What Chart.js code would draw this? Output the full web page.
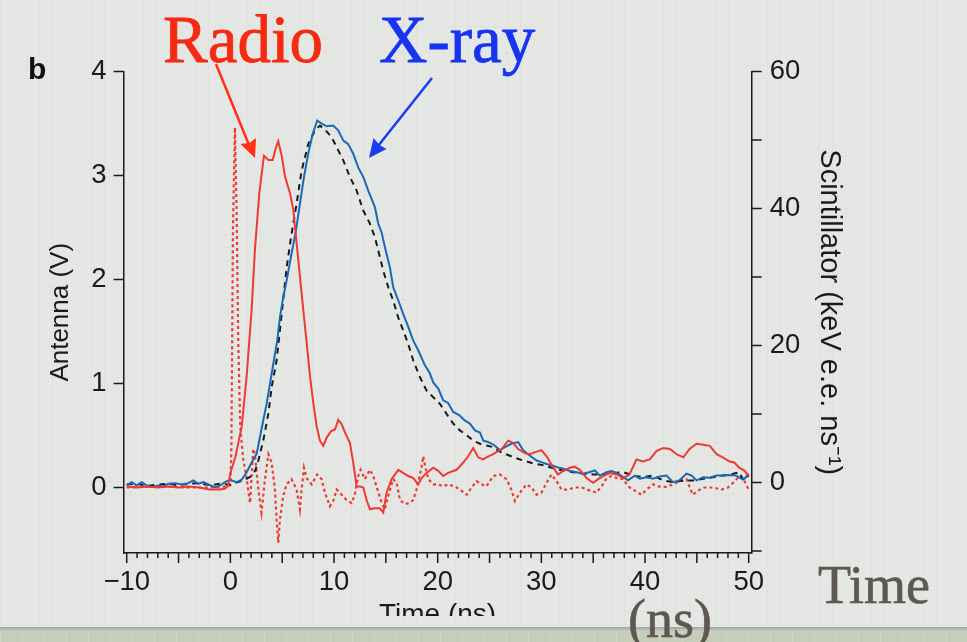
<!DOCTYPE html>
<html>
<head>
<meta charset="utf-8">
<script src="https://cdn.jsdelivr.net/npm/chart.js@4.4.1/dist/chart.umd.min.js"></script>
<style>
  body {
    margin: 0; width: 967px; height: 642px; overflow: hidden; position: relative;
    background-color: #e4e7e4;
    background-image:
      linear-gradient(rgba(0,0,0,0.022) 1px, transparent 1px),
      linear-gradient(90deg, rgba(0,0,0,0.022) 1px, transparent 1px);
    background-size: 13px 13px;
  }
  #wrap { position: absolute; left: 0; top: 0; width: 967px; height: 616px; overflow: hidden; }
  #strip {
    position: absolute; left: 0; top: 627px; width: 967px; height: 15px;
    background-color: #c5cdbb;
    background-image:
      linear-gradient(#9ea298 0, #b4b9ad 2px, rgba(0,0,0,0) 4px),
      linear-gradient(90deg, rgba(255,255,255,0.18) 1px, transparent 1px);
    background-size: 100% 100%, 22px 100%;
  }
  .t { position: absolute; white-space: nowrap; line-height: 1; }
  .serif { font-family: 'Liberation Serif', 'Times New Roman', serif; }
  #radio { left: 163px; top: 6px; font-size: 67px; color: #f52a10; -webkit-text-stroke: 0.8px #f52a10; }
  #xray { left: 379px; top: 6px; font-size: 67px; color: #1634f2; -webkit-text-stroke: 0.8px #1634f2; }
  #panel { left: 28px; top: 52px; font: bold 30px 'Liberation Sans', Arial, sans-serif; color: #111; }
  #time { left: 818px; top: 558px; font-size: 54px; color: #5d5852; -webkit-text-stroke: 0.6px #5d5852; }
  #ns { left: 628px; top: 592px; font-size: 54px; color: #5d5852; -webkit-text-stroke: 0.6px #5d5852; }
  svg { position: absolute; left: 0; top: 0; }
</style>
</head>
<body>
<div id="wrap"><canvas id="c" width="967" height="642"></canvas></div>
<div id="strip"></div>
<div class="t" id="panel">b</div>
<div class="t serif" id="radio">Radio</div>
<div class="t serif" id="xray">X-ray</div>
<div class="t serif" id="time">Time</div>
<div class="t serif" id="ns">(ns)</div>
<svg width="967" height="642">
  <line x1="216" y1="64" x2="249" y2="145" stroke="#ff3015" stroke-width="2.5"/>
  <polygon points="255,158 240.5,144 249.5,143 256,138" fill="#ff3015"/>
  <line x1="432" y1="78" x2="378" y2="146" stroke="#1a3cf5" stroke-width="2.5"/>
  <polygon points="369,158 373.5,138 379.5,145 386.5,149" fill="#1a3cf5"/>
</svg>
<script>
// antenna, solid red (V)
const radioSolid = [
  [-10,0.01],[-9,0.0],[-8,0.01],[-7,0.0],[-6,0.01],[-5,0.0],[-4,0.01],[-3,0.0],[-2,-0.02],[-1,-0.02],
  [-0.5,-0.01],[-0.2,0.02],[0,0.14],[0.5,0.3],[1.1,0.59],[1.57,1.07],[2.05,1.71],[2.37,2.29],[2.79,2.83],
  [3.24,3.19],[3.66,3.15],[4.08,3.15],[4.4,3.27],[4.62,3.33],[4.95,3.19],[5.27,2.99],[5.75,2.83],[6.07,2.67],
  [6.39,2.35],[6.71,2.03],[7.03,1.71],[7.36,1.39],[7.68,1.07],[8.0,0.81],[8.32,0.59],[8.64,0.45],[8.96,0.40],
  [9.29,0.48],[9.7,0.54],[10.1,0.56],[10.4,0.65],[10.73,0.61],[11.05,0.53],[11.53,0.43],[11.85,0.24],
  [12.18,0.01],[12.5,0.01],[12.82,0.0],[13.14,-0.12],[13.46,-0.21],[13.94,-0.2],[14.4,-0.2],[14.75,-0.24],
  [15.07,-0.05],[15.55,0.08],[16.2,0.17],[16.67,0.14],[17.16,0.11],[17.64,0.09],[18.12,0.03],[18.45,0.09],
  [18.93,0.14],[19.57,0.19],[20.05,0.16],[20.53,0.11],[21.01,0.14],[21.82,0.17],[22.46,0.24],[22.94,0.30],
  [23.43,0.38],[23.9,0.29],[24.39,0.27],[24.7,0.29],[25.35,0.32],[26.16,0.37],[26.8,0.45],[27.28,0.43],
  [27.76,0.37],[28.4,0.33],[28.9,0.32],[29.4,0.34],[30.0,0.36],[30.5,0.30],[30.98,0.22],[31.6,0.125],
  [32.1,0.16],[32.75,0.19],[33.2,0.2],[33.7,0.17],[34.36,0.09],[35.0,0.045],[35.47,0.08],[35.96,0.11],
  [36.6,0.14],[37.25,0.125],[37.9,0.09],[38.5,0.125],[39.18,0.27],[39.8,0.25],[40.46,0.27],[41.1,0.35],
  [41.75,0.38],[42.4,0.37],[43.04,0.32],[43.7,0.29],[44.3,0.37],[44.97,0.42],[45.6,0.41],[46.25,0.40],
  [46.9,0.32],[47.5,0.29],[48.16,0.25],[48.6,0.24],[49.1,0.19],[49.6,0.16],[50.0,0.11]
];

// antenna, dotted red (V)
const radioDotted = [
  [-10,0.0],[-7,0.01],[-4,0.0],[-1,0.0],[0,0.02],[0.1,0.4],[0.25,2.5],[0.44,3.46],[0.6,2.67],[0.76,1.39],
  [0.95,0.6],[1.09,0.43],[1.25,0.27],[1.55,0.1],[1.9,-0.15],[2.2,0.37],[2.35,0.33],[2.7,-0.02],[3.0,-0.24],
  [3.34,0.08],[3.66,0.32],[3.98,0.24],[4.3,-0.02],[4.46,-0.31],[4.62,-0.53],[4.78,-0.31],[5.1,-0.08],
  [5.43,0.03],[5.9,0.08],[6.39,-0.02],[6.71,-0.21],[6.87,-0.02],[7.1,0.19],[7.36,0.09],[7.84,0.03],
  [8.38,0.125],[8.8,0.08],[9.12,-0.05],[9.6,-0.18],[9.92,-0.13],[10.25,-0.02],[10.73,-0.07],[11.2,-0.12],
  [11.7,-0.15],[12.0,-0.07],[12.33,0.11],[12.56,0.17],[12.98,0.08],[13.46,0.17],[13.78,0.11],[14.1,0.01],
  [14.6,-0.15],[14.9,-0.21],[15.23,-0.08],[15.7,0.08],[16.04,0.045],[16.36,-0.12],[16.84,-0.16],[17.3,-0.15],
  [17.64,-0.12],[17.96,-0.02],[18.45,0.2],[18.6,0.3],[18.8,0.2],[19.1,0.08],[19.57,0.03],[20.05,0.03],
  [20.53,0.01],[21.0,0.03],[21.66,0.01],[22.14,-0.02],[22.8,-0.07],[23.27,0.0],[23.75,0.06],[24.23,0.03],
  [24.7,0.01],[25.35,0.11],[26.0,0.125],[26.64,0.08],[27.1,-0.02],[27.45,-0.13],[27.93,-0.05],[28.57,0.03],
  [29.05,0.0],[29.54,-0.07],[30.0,-0.05],[30.5,0.045],[30.98,0.125],[31.47,0.06],[31.95,-0.02],[32.6,-0.02],
  [33.2,0.0],[33.87,0.0],[34.7,-0.03],[35.3,-0.05],[35.8,0.01],[36.3,0.09],[36.77,0.11],[37.25,0.09],
  [37.9,0.08],[38.37,0.01],[39.0,-0.03],[39.66,-0.07],[40.14,-0.02],[40.78,0.03],[41.26,0.01],[42.07,0.005],
  [42.7,0.03],[43.3,0.06],[44.0,0.08],[44.6,-0.07],[45.1,-0.03],[45.77,0.0],[46.57,0.0],[47.38,-0.02],
  [48.0,0.0],[48.67,0.06],[49.1,0.11],[49.6,0.06],[50.0,-0.02]
];

// scintillator, blue (keV e.e. ns^-1)
const xray = [
  [-10,-0.4],[-9.5,0.05],[-9.04,-0.44],[-8.55,0.05],[-8.07,-0.44],[-7.6,-0.7],[-6.95,-0.44],[-6.5,-0.6],
  [-5.99,-0.2],[-5.34,-0.1],[-4.7,-0.3],[-4.06,-0.1],[-3.58,0.3],[-3.1,-0.2],[-2.6,0.05],[-2.13,-0.3],
  [-1.48,-0.7],[-1.0,-0.44],[-0.52,0.05],[-0.04,0.4],[0.6,0.05],[1.09,0.4],[1.57,1.5],[2.05,2.9],[2.54,4.2],
  [2.85,6.6],[3.17,9.05],[3.5,11.5],[3.82,14.4],[4.14,17.3],[4.52,20.7],[4.78,24.1],[5.1,27.05],[5.49,30.0],
  [5.9,33.4],[6.33,36.8],[6.71,40.7],[7.1,44.6],[7.51,48.0],[7.94,50.9],[8.38,52.85],[8.8,52.4],[9.29,52.0],
  [9.92,52.1],[10.4,51.4],[10.9,49.9],[11.37,49.4],[11.85,48.0],[12.33,46.0],[12.82,44.6],[13.3,42.6],
  [13.94,40.2],[14.26,37.8],[14.59,36.5],[14.9,34.4],[15.39,31.4],[15.71,28.5],[16.19,26.6],[16.67,24.6],
  [17.16,22.7],[17.64,20.7],[18.12,19.3],[18.77,17.1],[19.25,15.9],[19.57,14.6],[20.05,13.7],[20.53,12.0],
  [21.0,11.6],[21.5,10.3],[22.1,9.8],[22.6,9.05],[23.1,8.6],[23.6,7.6],[24.07,7.3],[24.4,6.1],[24.87,5.9],
  [25.5,5.4],[26.0,4.7],[26.48,5.15],[27.1,5.65],[27.76,5.9],[28.25,4.7],[28.9,3.9],[29.54,3.2],[30.0,2.96],
  [30.5,2.7],[30.98,2.5],[31.6,2.2],[32.1,2.0],[32.6,1.75],[33.4,1.5],[34.03,1.27],[34.6,1.5],[35.16,1.75],
  [35.64,1.0],[36.28,1.5],[36.77,1.65],[37.4,1.27],[37.9,0.77],[38.37,0.3],[39.0,1.0],[39.5,0.54],
  [40.14,0.77],[40.78,0.54],[41.42,0.88],[42.07,1.0],[42.7,0.05],[43.3,0.3],[44.0,1.27],[44.5,1.0],
  [44.97,0.3],[45.6,0.77],[46.25,0.68],[46.9,1.0],[47.5,1.0],[48.16,1.1],[48.8,1.0],[49.3,0.54],[49.6,0.54],
  [50.0,1.27]
];

// scintillator model, black dashed
const model = [
  [-10,-0.3],[-9,-0.2],[-8,-0.5],[-7,-0.3],[-6,-0.2],[-5,-0.4],[-4,-0.2],[-3,-0.1],[-2,-0.4],[-1,-0.2],
  [0,-0.3],[1.25,0.3],[1.9,0.8],[2.4,1.75],[2.7,3.2],[3.17,6.1],[3.66,10.0],[3.98,13.9],[4.46,17.8],
  [4.95,24.6],[5.43,31.4],[5.9,36.3],[6.39,40.7],[6.87,45.5],[7.51,49.4],[8.16,51.4],[8.64,52.1],[9.2,51.4],
  [9.77,50.4],[10.25,48.95],[10.9,47.0],[11.53,44.6],[12.18,42.6],[12.82,39.7],[13.46,37.8],[13.94,35.8],
  [14.26,33.9],[14.75,30.9],[15.23,28.5],[15.7,26.6],[16.19,24.1],[16.67,22.2],[17.16,20.2],[17.64,17.8],
  [18.28,15.4],[18.93,13.4],[19.57,12.45],[20.2,11.5],[20.86,10.0],[21.5,8.6],[22.14,7.6],[22.8,6.9],
  [23.43,6.1],[24.07,5.65],[24.7,5.4],[25.35,5.15],[26.0,4.5],[27.28,3.7],[28.25,3.2],[29.2,2.8],[30.2,2.5],
  [31.1,2.1],[32.1,1.75],[33.07,1.5],[34.0,1.27],[35.0,1.17],[35.96,1.17],[36.9,1.36],[37.9,1.5],[38.85,1.0],
  [39.8,0.77],[40.78,1.0],[41.75,0.3],[42.7,0.05],[43.7,0.3],[44.66,0.3],[45.6,0.54],[46.57,0.77],[47.5,1.0],
  [48.5,1.27],[49.1,1.5],[49.5,0.3],[50.0,1.0]
];

const sans = "'Liberation Sans', Arial, Helvetica, sans-serif";
const ink = '#1a1a1a';
const toXY = arr => arr.map(p => ({x: p[0], y: p[1]}));
const minus = v => String(v).replace('-', '\u2212');

// tick marks: minor every 1 ns, longer every 5 ns
const tickMarks = {
  id: 'tickMarks',
  afterDraw(chart) {
    const {ctx, chartArea: a, scales: {x, y, y1}} = chart;
    ctx.save();
    ctx.strokeStyle = ink;
    ctx.lineWidth = 1.5;
    ctx.beginPath();
    x.ticks.forEach(t => {
      const px = x.getPixelForValue(t.value);
      const len = Math.round(t.value) % 5 === 0 ? 10 : 5;
      ctx.moveTo(px, a.bottom); ctx.lineTo(px, a.bottom + len);
    });
    y.ticks.forEach(t => {
      const py = y.getPixelForValue(t.value);
      ctx.moveTo(a.left, py); ctx.lineTo(a.left - 10, py);
    });
    y1.ticks.forEach(t => {
      const py = y1.getPixelForValue(t.value);
      ctx.moveTo(a.right, py); ctx.lineTo(a.right + 10, py);
    });
    ctx.stroke();
    ctx.restore();
  }
};

const tickFont = {family: sans, size: 27.5};

new Chart(document.getElementById('c'), {
  type: 'line',
  data: {
    datasets: [
      {label: 'Radio', data: toXY(radioSolid), yAxisID: 'y', borderColor: '#ee3a33', borderWidth: 2, order: 0},
      {label: 'X-ray', data: toXY(xray), yAxisID: 'y1', borderColor: '#1a68b8', borderWidth: 2, order: 1},
      {label: 'Model', data: toXY(model), yAxisID: 'y1', borderColor: '#1a1a1a', borderWidth: 2, borderDash: [6, 5], order: 2},
      {label: 'Radio dotted', data: toXY(radioDotted), yAxisID: 'y', borderColor: '#ee3a33', borderWidth: 2.2, borderDash: [3, 3], order: 3}
    ]
  },
  options: {
    responsive: false,
    animation: false,
    layout: {padding: {left: 45, right: 120.6, top: 71.5, bottom: 10.2}},
    plugins: {legend: {display: false}, tooltip: {enabled: false}},
    elements: {point: {radius: 0}, line: {tension: 0, fill: false}},
    scales: {
      x: {
        type: 'linear', min: -10.31, max: 50.29,
        afterFit: s => { s.height = 78.8; },
        grid: {display: false, drawTicks: false},
        border: {display: true, color: ink, width: 1.5},
        ticks: {
          stepSize: 1, autoSkip: false, maxRotation: 0, includeBounds: false, padding: 13.4,
          color: ink, font: tickFont,
          callback: v => (Math.round(v) % 10 === 0 ? minus(v) : '')
        },
        title: {display: true, text: 'Time (ns)', color: ink, font: {family: sans, size: 28}, padding: 0}
      },
      y: {
        position: 'left', min: -0.63, max: 4,
        afterFit: s => { s.width = 78.5; },
        grid: {display: false, drawTicks: false},
        border: {display: true, color: ink, width: 1.5},
        ticks: {stepSize: 1, includeBounds: false, padding: 17, color: ink, font: tickFont, callback: v => minus(v)},
        title: {display: true, text: 'Antenna (V)', color: ink, font: {family: sans, size: 26}, padding: 0}
      },
      y1: {
        position: 'right', min: -10.3, max: 60,
        afterFit: s => { s.width = 94.7; },
        grid: {display: false, drawTicks: false},
        border: {display: true, color: ink, width: 1.5},
        ticks: {
          stepSize: 10, includeBounds: false, padding: 18, color: ink, font: tickFont,
          callback: v => (Math.round(v) % 20 === 0 ? minus(v) : '')
        },
        title: {display: true, text: 'Scintillator (keV e.e. ns\u207B\u00B9)', color: ink, font: {family: sans, size: 29}, padding: 0}
      }
    }
  },
  plugins: [tickMarks]
});
</script>
</body>
</html>
